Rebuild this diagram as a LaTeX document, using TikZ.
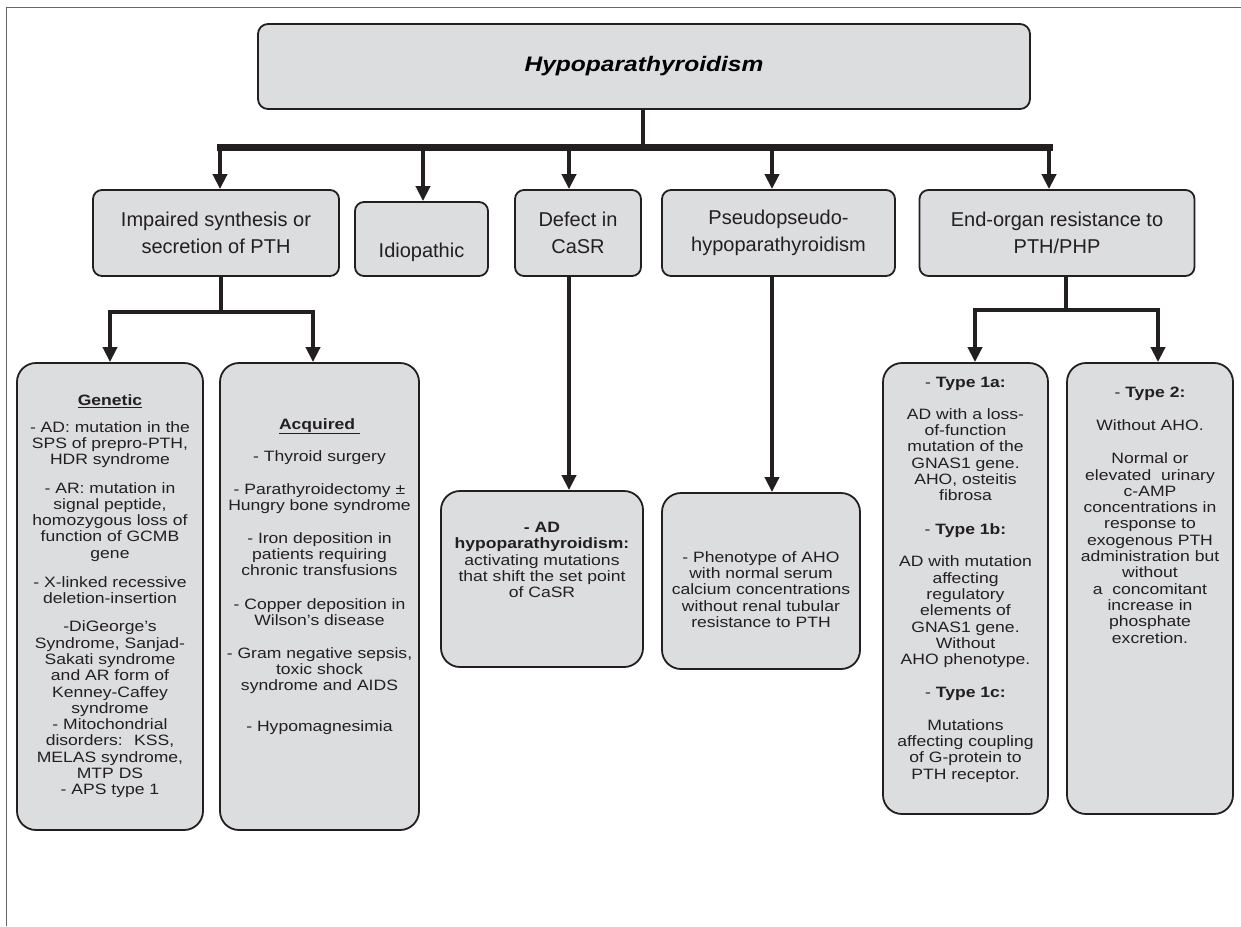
\documentclass[tikz,border=0pt]{standalone}
\usepackage{fontspec}
\setmainfont{Liberation Sans}
\newfontfamily\wide{Liberation Sans}[FakeStretch=1.17]
\usepackage{tikz}
\usetikzlibrary{arrows.meta,positioning}
\definecolor{boxgray}{HTML}{DCDDDF}
\definecolor{ink}{HTML}{231F20}
\definecolor{framegray}{HTML}{666666}

\begin{document}
\begin{tikzpicture}[x=1pt,y=-1pt,>={Triangle[length=15pt,width=14pt]},
bx/.style={draw=ink,line width=1.8pt,fill=boxgray,rounded corners=9pt,inner sep=0pt},
big/.style={bx,rounded corners=19pt},
hd/.style={font=\fontsize{20}{27}\selectfont,align=center,text=ink},
tx/.style={font=\wide\fontsize{15}{16.3}\selectfont,align=center,text=ink,inner sep=0pt,anchor=north},
arr/.style={->,line width=4.5pt,draw=ink},
stem/.style={line width=4.5pt,draw=ink},
bus/.style={line width=7pt,draw=ink,line cap=rect}]
\useasboundingbox (0,0) rectangle (1241,926);
\draw[framegray,line width=1.5pt] (6.5,926) -- (6.5,7.5) -- (1241,7.5);

\node[bx,minimum width=772pt,minimum height=85pt,rounded corners=10pt] (top) at (644,66.5)
  {\raisebox{5pt}{\wide\fontsize{21}{25}\selectfont\bfseries\itshape Hypoparathyroidism}};

\node[bx,hd,minimum width=246pt,minimum height=86pt] (imp) at (216,233) {Impaired synthesis or\\secretion of PTH};
\node[bx,font=\fontsize{20}{27}\selectfont,text=ink,text height=36pt,text depth=0pt,
  minimum width=133pt,minimum height=74pt] (idio) at (421.5,239) {Idiopathic};
\node[bx,hd,minimum width=126pt,minimum height=86pt] (casr) at (578,233) {Defect in\\CaSR};
\node[bx,hd,minimum width=233pt,minimum height=86pt] (pseudo) at (778.5,233) {Pseudopseudo-\\hypoparathyroidism};
\node[bx,hd,minimum width=275pt,minimum height=86pt] (endo) at (1057,233) {End-organ resistance to\\PTH/PHP};

\node[big,minimum width=186pt,minimum height=467pt] (gen) at (110,596.5) {};
\node[big,minimum width=199pt,minimum height=467pt] (acq) at (319.5,596.5) {};
\node[big,minimum width=202pt,minimum height=176pt] (adb) at (542,579) {};
\node[big,minimum width=198pt,minimum height=176pt] (phen) at (761,581) {};
\node[big,minimum width=165pt,minimum height=451pt] (ta) at (965.5,588.5) {};
\node[big,minimum width=166pt,minimum height=451pt] (tb) at (1150,588.5) {};

\node[tx] (gentx) at ([yshift=-32pt]gen.north) {\underline{\textbf{Genetic}}\\[10.7pt]
- AD: mutation in the\\SPS of prepro-PTH,\\HDR syndrome\\[12pt]
- AR: mutation in\\signal peptide,\\homozygous loss of\\function of GCMB\\gene\\[12.7pt]
- X-linked recessive\\deletion-insertion\\[12pt]
-DiGeorge’s\\Syndrome, Sanjad-\\Sakati syndrome\\and AR form of\\Kenney-Caffey\\syndrome\\
- Mitochondrial\\disorders:~ KSS,\\MELAS syndrome,\\MTP DS\\- APS type 1};
\node[tx] (acqtx) at ([yshift=-56pt]acq.north) {\underline{\textbf{Acquired}\ }\\[16pt]
- Thyroid surgery\\[16.4pt]
- Parathyroidectomy ±\\Hungry bone syndrome\\[16.4pt]
- Iron deposition in\\patients requiring\\chronic transfusions\\[17pt]
- Copper deposition in\\Wilson’s disease\\[16.4pt]
- Gram negative sepsis,\\toxic shock\\syndrome and AIDS\\[24.7pt]
- Hypomagnesimia};
\node[tx] (adtx) at ([yshift=-32pt]adb.north) {\textbf{- AD}\\\textbf{hypoparathyroidism:}\\activating mutations\\that shift the set point\\of CaSR};
\node[tx] (phentx) at ([yshift=-59pt]phen.north) {- Phenotype of AHO\\with normal serum\\calcium concentrations\\without renal tubular\\resistance to PTH};
\node[tx] (tatx) at ([yshift=-15pt]ta.north) {- \textbf{Type 1a:}\\[15.4pt]
AD with a loss-\\of-function\\mutation of the\\GNAS1 gene.\\AHO, osteitis\\fibrosa\\[17pt]
- \textbf{Type 1b:}\\[16.4pt]
AD with mutation\\affecting\\regulatory\\elements of\\GNAS1 gene.\\Without\\AHO phenotype.\\[16.7pt]
- \textbf{Type 1c:}\\[16.4pt]
Mutations\\affecting coupling\\of G-protein to\\PTH receptor.};
\node[tx] (tbtx) at ([yshift=-25pt]tb.north) {- \textbf{Type 2:}\\[16.4pt]
Without AHO.\\[17pt]
Normal or\\elevated~ urinary\\c-AMP\\concentrations in\\response to\\exogenous PTH\\administration but\\without\\a~ concomitant\\increase in\\phosphate\\excretion.};

\coordinate (j1) at (220,147);
\coordinate (j2) at (423,147);
\coordinate (j3) at (569,147);
\coordinate (j4) at (772,147);
\coordinate (j5) at (1049,147);
\draw[stem] (top.south -| 643,0) -- (j1 -| 643,0);
\draw[bus] (j1) -- (j5);
\foreach \j/\n in {j1/imp,j2/idio,j3/casr,j4/pseudo,j5/endo}
  \draw[arr] (\j) -- (\j |- \n.north);

\coordinate (k0) at (221,312);
\coordinate (k1) at (110,312);
\coordinate (k2) at (313,312);
\draw[stem] (imp.south -| k0) -- (k0);
\draw[arr] (k0) -| (k1 |- gen.north);
\draw[arr] (k0) -| (k2 |- acq.north);

\coordinate (m0) at (1066,310);
\coordinate (m1) at (975,310);
\coordinate (m2) at (1158,310);
\draw[stem] (endo.south -| m0) -- (m0);
\draw[arr] (m0) -| (m1 |- ta.north);
\draw[arr] (m0) -| (m2 |- tb.north);

\draw[arr] (casr.south -| j3) -- (j3 |- adb.north);
\draw[arr] (pseudo.south -| j4) -- (j4 |- phen.north);
\end{tikzpicture}
\end{document}
